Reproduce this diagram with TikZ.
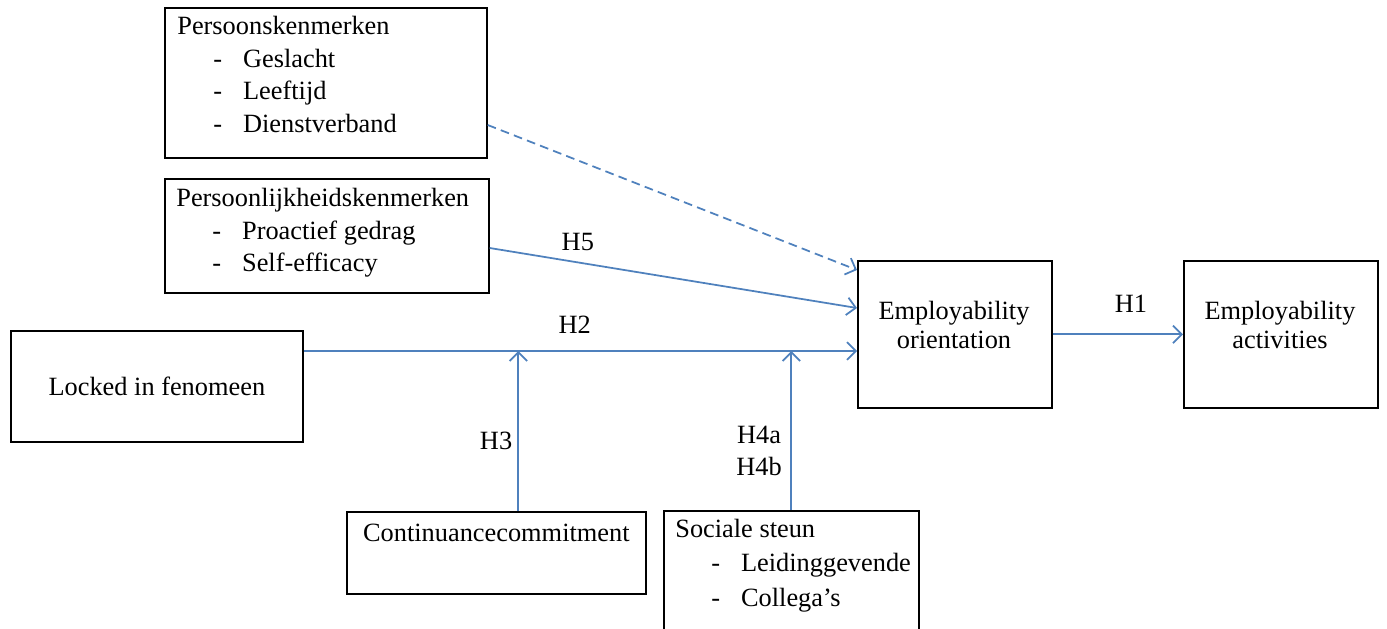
\documentclass[tikz,border=0pt]{standalone}
\usepackage{fontspec}
\setmainfont{Liberation Serif}
\usetikzlibrary{arrows.meta}
\definecolor{linkblue}{RGB}{79,129,189}
\newcommand{\dashitem}[1]{\hspace*{0.72cm}-\hspace*{0.42cm}#1}
\tikzset{
  box/.style={draw, line width=1pt, anchor=north west, inner sep=0pt},
  txt/.style={inner sep=0pt, align=left},
  arr/.style={linkblue, line width=1pt, -{Straight Barb[length=5pt,width=10pt]}},
  hyp/.style={inner sep=1pt, text=black}
}
\begin{document}
\begin{tikzpicture}[x=0.02cm,y=-0.02cm,font=\fontsize{15}{18.5}\selectfont]
    \useasboundingbox (0,0) rectangle (1387,629);
    \clip (0,0) rectangle (1387,629);
    % boxes
    \node[box,minimum width=6.44cm,minimum height=3cm] (pers) at (164,7) {};
    \node[txt,anchor=north west] (persT) at ([shift={(13,9)}]pers.north west)
        {Persoonskenmerken\\\dashitem{Geslacht}\\\dashitem{Leeftijd}\\\dashitem{Dienstverband}};
    \node[box,minimum width=6.48cm,minimum height=2.28cm] (pk) at (164,178) {};
    \node[txt,anchor=north west] (pkT) at ([shift={(12,10)}]pk.north west)
        {Persoonlijkheidskenmerken\\\dashitem{Proactief gedrag}\\\dashitem{Self-efficacy}};
    \node[box,minimum width=5.84cm,minimum height=2.22cm] (locked) at (10,330) {Locked in fenomeen};
    \node[box,minimum width=5.98cm,minimum height=1.64cm] (cc) at (346,511) {};
    \node[txt,anchor=north] (ccT) at ([shift={(0,13)}]cc.north) {Continuancecommitment};
    \node[box,minimum width=5.1cm,minimum height=2.6cm] (ss) at (663,510) {};
    \node[txt,anchor=north west] (ssT) at ([shift={(12,9)}]ss.north west)
        {Sociale steun\\[1pt]\dashitem{Leidinggevende}\\[1pt]\dashitem{Collega's}};
    \node[box,minimum width=3.88cm,minimum height=2.94cm] (eo) at (857,260) {};
    \node[align=center,font=\fontsize{15}{17}\selectfont] (eoT) at (954,325) {Employability\\orientation};
    \node[box,minimum width=3.88cm,minimum height=2.94cm] (ea) at (1183,260) {};
    \node[align=center,font=\fontsize{15}{17}\selectfont] (eaT) at (1280,325) {Employability\\activities};
    % connectors
    \coordinate (h2s) at ([shift={(0,21)}]locked.north east);
    \coordinate (h2e) at ([shift={(0,91)}]eo.north west);
    \coordinate (c3) at ([shift={(22,0)}]cc.north);
    \draw[arr,dash pattern=on 5pt off 3pt] ([shift={(0,118)}]pers.north east) -- ([shift={(0,10)}]eo.north west);
    \draw[arr] ([shift={(0,70)}]pk.north east) -- ([shift={(0,48)}]eo.north west)
        node[hyp,pos=0.24,above=0.18cm] (h5) {H5};
    \draw[arr] (h2s) -- (h2e) node[hyp,pos=0.49,above=0.29cm] (h2) {H2};
    \draw[arr] (c3) -- (c3 |- h2s) node[hyp,pos=0.44,left=2pt] (h3) {H3};
    \draw[arr] (ss.north) -- (ss.north |- h2s)
        node[hyp,pos=0.37,left=4pt,align=center] (h4) {H4a\\H4b};
    \draw[arr] (eo.east) -- (ea.west) node[hyp,pos=0.6,above=0.39cm] (h1) {H1};
\end{tikzpicture}
\end{document}
